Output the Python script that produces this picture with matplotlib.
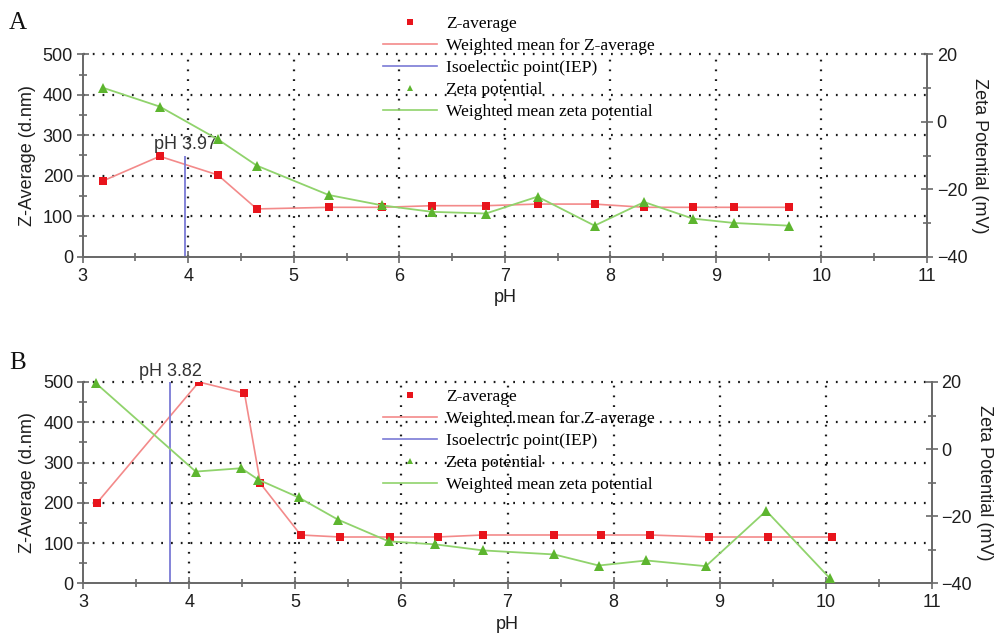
import matplotlib
matplotlib.use("Agg")
import matplotlib.pyplot as plt
from matplotlib.lines import Line2D
from matplotlib.ticker import MultipleLocator

# ---------------- data ----------------
# Panel A
ph_z_a = [3.19, 3.73, 4.28, 4.65, 5.33, 5.84, 6.31, 6.82, 7.31, 7.85, 8.32, 8.78, 9.17, 9.69]
z_a = [187, 248, 202, 118, 122, 122, 126, 126, 130, 130, 122, 122, 122, 122]
ph_zeta_a = [3.19, 3.73, 4.28, 4.65, 5.33, 5.84, 6.31, 6.82, 7.31, 7.85, 8.32, 8.78, 9.17, 9.69]
zeta_a = [10.1, 4.5, -5.2, -13.0, -21.7, -24.8, -26.7, -27.2, -22.2, -30.8, -23.8, -28.7, -30.0, -30.8]
iep_a = 3.97
iep_a_top = 248

# Panel B
ph_z_b = [3.13, 4.09, 4.52, 4.67, 5.05, 5.42, 5.89, 6.34, 6.77, 7.44, 7.88, 8.34, 8.90, 9.46, 10.06]
z_b = [200, 500, 472, 248, 120, 115, 115, 115, 120, 120, 120, 120, 115, 115, 115]
ph_zeta_b = [3.12, 4.06, 4.49, 4.65, 5.03, 5.40, 5.88, 6.32, 6.77, 7.44, 7.86, 8.31, 8.87, 9.44, 10.04]
zeta_b = [19.6, -6.7, -5.7, -9.1, -14.4, -21.0, -27.5, -28.4, -30.2, -31.4, -34.7, -33.2, -34.9, -18.4, -38.5]
iep_b = 3.82
iep_b_top = 500

legend_labels = ["Z-average", "Weighted mean for Z-average", "Isoelectric point(IEP)",
                 "Zeta potential", "Weighted mean zeta potential"]
x_ticks = [3, 4, 5, 6, 7, 8, 9, 10, 11]
left_ticks = [0, 100, 200, 300, 400, 500]
right_ticks = [-40, -20, 0, 20]

# ---------------- style ----------------
SANS = ["Liberation Sans", "DejaVu Sans"]
SERIF = ["Liberation Serif", "DejaVu Serif"]
RED = "#e8141c"
PINK = "#f38a8a"
GREEN = "#5db52f"
LGREEN = "#90d36c"
BLUE = "#7a7ad6"
SPINE = "#6a6a6a"
TXT = "#1e1e1e"
GRID = dict(color="#1a1a1a", linestyle=(0, (0.8, 3.6)), linewidth=1.6)

W, H = 996, 639
fig = plt.figure(figsize=(W / 100, H / 100), dpi=100)


def make_panel(rect, phz, z, phzeta, zeta, iep, iep_top, iep_text_xy, letter, letter_xy, leg_top):
    ax = fig.add_axes(rect)
    ax.set_xlim(3, 11)
    ax.set_ylim(0, 500)
    ax2 = ax.twinx()
    ax2.set_ylim(-40, 20)

    # grid
    for xv in x_ticks[1:-1]:
        ax.axvline(xv, zorder=0.5, **GRID)
    for yv in left_ticks[1:]:
        ax.axhline(yv, zorder=0.5, clip_on=False, **GRID)

    # spines
    for a in (ax, ax2):
        a.spines["top"].set_visible(False)
        for s in ("left", "right", "bottom"):
            a.spines[s].set_color(SPINE)
            a.spines[s].set_linewidth(1.3)

    ax.set_xticks(x_ticks)
    ax.xaxis.set_minor_locator(MultipleLocator(0.5))
    ax.set_yticks(left_ticks)
    ax.yaxis.set_minor_locator(MultipleLocator(50))
    ax2.set_yticks(right_ticks)
    ax2.yaxis.set_minor_locator(MultipleLocator(10))
    for a in (ax, ax2):
        a.tick_params(which="both", direction="inout", color=SPINE, width=1.2, labelcolor=TXT,
                      labelsize=13)
        a.tick_params(which="major", length=8)
        a.tick_params(which="minor", length=6)
    ax.tick_params(axis="x", pad=4)
    ax.tick_params(axis="y", pad=3)
    ax2.tick_params(axis="y", pad=3)
    for lab in ax.get_xticklabels() + ax.get_yticklabels() + ax2.get_yticklabels():
        lab.set_family(SANS)

    ax.set_xlabel("pH", family=SANS, fontsize=13, color=TXT, labelpad=3)
    ax.set_ylabel("Z-Average (d.nm)", family=SANS, fontsize=13, color=TXT, labelpad=5)
    ax2.set_ylabel("Zeta Potential (mV)", family=SANS, fontsize=13, color=TXT,
                   rotation=-90, labelpad=15)

    # data
    ax.plot(phz, z, color=PINK, lw=1.2, zorder=3)
    ax.plot(phz, z, "s", color=RED, ms=6, mew=0, zorder=4)
    ax.vlines(iep, 0, iep_top, color=BLUE, lw=1.3, zorder=3)
    ax.text(iep_text_xy[0], iep_text_xy[1], "pH %.2f" % iep, family=SANS, fontsize=13,
            color="#333333", ha="center", va="center", zorder=5)
    ax2.plot(phzeta, zeta, color=LGREEN, lw=1.3, zorder=3, clip_on=False)
    ax2.plot(phzeta, zeta, "^", color=GREEN, ms=7, mew=0, zorder=4, clip_on=False)

    fig.text(letter_xy[0], letter_xy[1], letter, family=SERIF, fontsize=18, color="#111111",
             ha="left", va="center")

    handles = [Line2D([], [], ls="none", marker="s", color=RED, ms=4, mew=0),
               Line2D([], [], color=PINK, lw=1.2),
               Line2D([], [], color=BLUE, lw=1.2),
               Line2D([], [], ls="none", marker="^", color=GREEN, ms=5, mew=0),
               Line2D([], [], color=LGREEN, lw=1.2)]
    fig.legend(handles, legend_labels, loc="upper left", bbox_to_anchor=(383 / W, leg_top),
               bbox_transform=fig.transFigure, frameon=False, borderpad=0, borderaxespad=0,
               handlelength=3.1, handletextpad=0.5, labelspacing=0.33,
               prop=dict(family=SERIF, size=12.6))
    return ax, ax2


# Panel A
make_panel([82.7 / W, 1 - 256.7 / H, (927 - 82.7) / W, (256.7 - 54.3) / H],
           ph_z_a, z_a, ph_zeta_a, zeta_a, iep_a, iep_a_top, (3.97, 276),
           "A", (9 / W, 1 - 23 / H), 1 - 16 / H)

# Panel B
make_panel([83.3 / W, 1 - 583.3 / H, (931.7 - 83.3) / W, (583.3 - 382) / H],
           ph_z_b, z_b, ph_zeta_b, zeta_b, iep_b, iep_b_top, (3.82, 525),
           "B", (9 / W, 1 - 363 / H), 1 - 389 / H)

fig.savefig("out.png", dpi=100)
